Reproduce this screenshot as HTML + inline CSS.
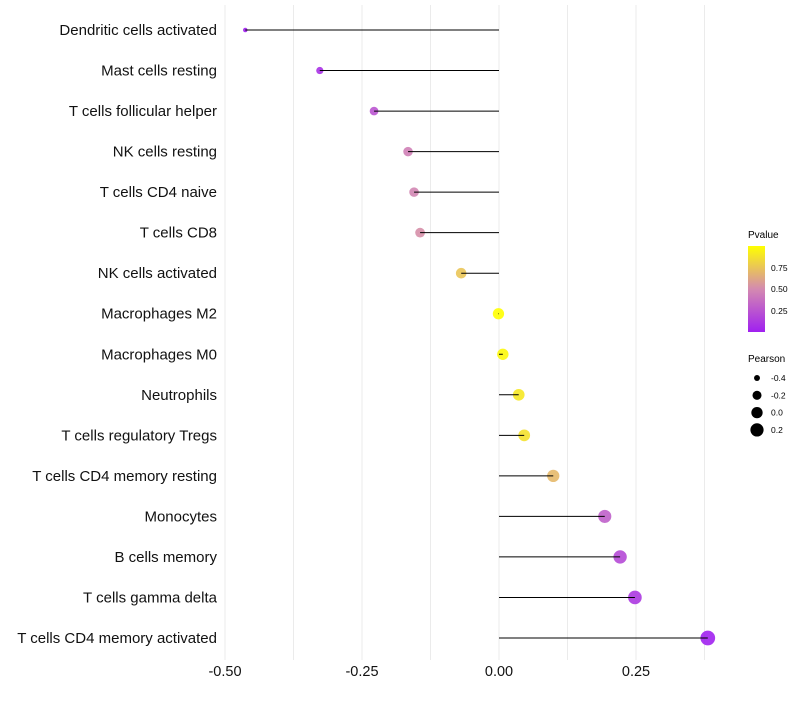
<!DOCTYPE html>
<html><head><meta charset="utf-8"><style>
body{margin:0;background:#fff;font-family:"Liberation Sans",sans-serif}
</style></head><body>
<svg id="chart" width="800" height="700" xmlns="http://www.w3.org/2000/svg" font-family="Liberation Sans, sans-serif">
<defs><linearGradient id="pg" x1="0" y1="1" x2="0" y2="0"><stop offset="0" stop-color="#a020f0"/><stop offset="0.5" stop-color="#d48ab0"/><stop offset="1" stop-color="#ffff00"/></linearGradient></defs>
<g id="grid"></g><g id="dots"></g><g id="marks"></g><g id="labels"></g>
<g>
<text x="748" y="238" font-size="10">Pvalue</text>
<rect x="748" y="246" width="17" height="86" fill="url(#pg)"/>
<text x="771" y="271" font-size="8.5">0.75</text>
<text x="771" y="292" font-size="8.5">0.50</text>
<text x="771" y="314" font-size="8.5">0.25</text>
</g>
<g id="sizeleg">
<text x="748" y="362" font-size="10">Pearson</text>
</g>
</svg>
<script>
const categories=["Dendritic cells activated","Mast cells resting","T cells follicular helper","NK cells resting","T cells CD4 naive","T cells CD8","NK cells activated","Macrophages M2","Macrophages M0","Neutrophils","T cells regulatory  Tregs","T cells CD4 memory resting","Monocytes","B cells memory","T cells gamma delta","T cells CD4 memory activated"];
const pearson=[-0.463,-0.327,-0.228,-0.166,-0.155,-0.144,-0.069,-0.001,0.007,0.036,0.046,0.099,0.193,0.221,0.248,0.381];
const pvalues=[0.0,0.08,0.25,0.45,0.48,0.52,0.75,1.0,0.97,0.9,0.87,0.7,0.3,0.2,0.12,0.01];
const xTicks=[-0.5,-0.25,0,0.25];
const xTickLabels=["-0.50","-0.25","0.00","0.25"];
const sizeLegend=[-0.4,-0.2,0.0,0.2];
const NS="http://www.w3.org/2000/svg";
const xs=v=>499+v*548;
const ys=i=>30+i*(638-30)/15;
const rs=v=>Math.sqrt(Math.max(1,32+58*v));
function col(p){const a=[160,32,240],m=[212,138,176],b=[255,255,0];let c;
 if(p<0.5){const t=p/0.5;c=a.map((x,k)=>x+(m[k]-x)*t)}else{const t=(p-0.5)/0.5;c=m.map((x,k)=>x+(b[k]-x)*t)}
 return `rgb(${c.map(Math.round).join(',')})`;}
function mk(t,at,parent){const e=document.createElementNS(NS,t);for(const k in at)e.setAttribute(k,at[k]);parent.appendChild(e);return e;}
const grid=document.getElementById('grid'),marks=document.getElementById('marks'),dots=document.getElementById('dots'),labels=document.getElementById('labels');
for(let v=-0.5;v<=0.38;v+=0.125){const g=mk('line',{x1:xs(v),x2:xs(v),y1:5,y2:660,stroke:'#ebebeb','stroke-width':1},grid);

}
xTicks.forEach((v,i)=>{const t=mk('text',{x:xs(v),y:676,'font-size':14.5,'text-anchor':'middle',fill:'#111'},labels);t.textContent=xTickLabels[i];

});
categories.forEach((c,i)=>{const y=ys(i);
 const t=mk('text',{x:217,y:y+5,'font-size':15,'text-anchor':'end',fill:'#111'},labels);t.textContent=c;
 
 
 const d=mk('circle',{cx:xs(pearson[i]),cy:y,r:rs(pearson[i]),fill:col(pvalues[i]),'fill-opacity':0.9},dots);
 
 
 const l=mk('line',{x1:xs(0),x2:xs(pearson[i]),y1:y,y2:y,stroke:'#000','stroke-width':1},marks);
 
 
});
const sl=document.getElementById('sizeleg');
sizeLegend.forEach((v,i)=>{const y=378+i*17.3;
 const c=mk('circle',{cx:757,cy:y,r:rs(v),fill:'#000'},sl);
 
 
 const t=mk('text',{x:771,y:y+3,'font-size':8.5},sl);t.textContent=v.toFixed(1);
 
 });
</script>
</body></html>
